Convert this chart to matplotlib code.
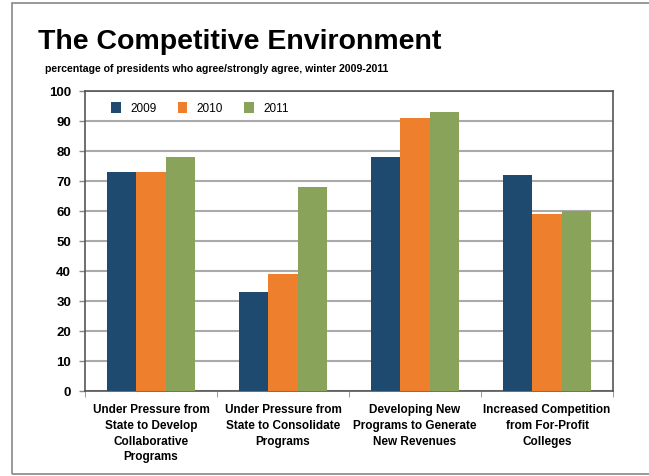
import numpy as np
import matplotlib
matplotlib.use("Agg")
from matplotlib import pyplot as plt
from matplotlib.patches import Rectangle

categories = ["Under Pressure from\nState to Develop\nCollaborative\nPrograms",
              "Under Pressure from\nState to Consolidate\nPrograms",
              "Developing New\nPrograms to Generate\nNew Revenues",
              "Increased Competition\nfrom For-Profit\nColleges"]
years = ["2009", "2010", "2011"]
v2009 = [73, 33, 78, 72]
v2010 = [73, 39, 91, 59]
v2011 = [78, 68, 93, 60]
colors = ["#1d4a6e", "#ee7f2d", "#89a35a"]

plt.rcParams['font.family'] = ['Liberation Sans', 'DejaVu Sans']

fig = plt.figure(figsize=(6.49, 4.77), dpi=100)
fig.patches.append(Rectangle((12/649, 1-475/477), 1, 471/477, transform=fig.transFigure,
                             fill=False, edgecolor="#888888", linewidth=1.2))
ax = fig.add_axes([85/649, 1-392/477, 528/649, 300/477])

x = np.arange(len(categories))
w = 0.22
for i, (vals, yr) in enumerate(zip([v2009, v2010, v2011], years)):
    ax.bar(x + (i-1)*w, vals, w, color=colors[i], label=yr, zorder=3)

ax.set_ylim(0, 100)
ax.set_xlim(-0.5, len(categories)-0.5)
ax.set_yticks(range(0, 101, 10))
ax.yaxis.grid(True, color="#aaaaaa", linewidth=1.5, zorder=0)
ax.set_axisbelow(True)
ax.tick_params(axis='y', labelsize=9.5, length=4, color="#888888", width=1, pad=6)
for t in ax.get_yticklabels():
    t.set_fontweight('bold')

ax.set_xticks(x)
ax.set_xticklabels(categories, fontsize=8.5, fontweight='bold', linespacing=1.4)
ax.tick_params(axis='x', length=0, pad=9)
ax.set_xticks(np.arange(len(categories)+1) - 0.5, minor=True)
ax.tick_params(axis='x', which='minor', length=4, color="#888888")
for s in ax.spines.values():
    s.set_color("#555555")
    s.set_linewidth(1.2)

ax.legend(loc='upper left', ncol=3, frameon=False, fontsize=8.5,
          handlelength=0.8, handleheight=1.1, columnspacing=1.8,
          bbox_to_anchor=(0.03, 1.0))

fig.text(38/649, 1-42/477, "The Competitive Environment", fontsize=20.5,
         fontweight='bold', va='center')
fig.text(45/649, 1-69/477, "percentage of presidents who agree/strongly agree, winter 2009-2011",
         fontsize=7.6, fontweight='bold', va='center')

fig.savefig("out.png", dpi=100)
